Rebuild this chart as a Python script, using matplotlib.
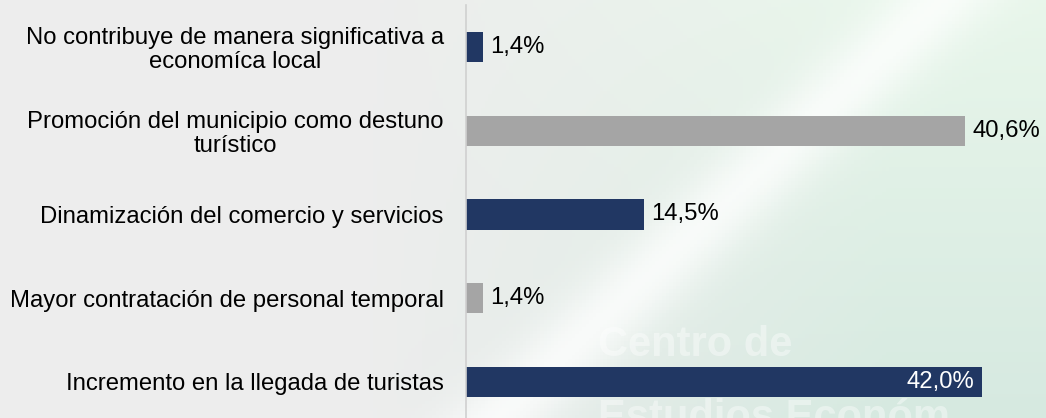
import numpy as np
import matplotlib
matplotlib.use("Agg")
import matplotlib.pyplot as plt

plt.rcParams['font.family'] = ['Liberation Sans', 'DejaVu Sans']

# Data (bottom to top)
categories = [
    "Incremento en la llegada de turistas",
    "Mayor contratación de personal temporal",
    "Dinamización del comercio y servicios",
    "Promoción del municipio como destuno\nturístico",
    "No contribuye de manera significativa a\neconomíca local",
]
values = [42.0, 1.4, 14.5, 40.6, 1.4]
labels = ["42,0%", "1,4%", "14,5%", "40,6%", "1,4%"]
colors = ["#213763", "#a5a5a5", "#213763", "#a5a5a5", "#213763"]

W, H = 1046, 418
fig = plt.figure(figsize=(W / 100, H / 100), dpi=100)

# background gradient
bg = fig.add_axes([0, 0, 1, 1], zorder=-10)
xx, yy = np.meshgrid(np.linspace(0, 1, 300), np.linspace(0, 1, 120))
left = np.array([0.93, 0.93, 0.93])
right_top = np.array([0.91, 0.965, 0.92])
right_bot = np.array([0.84, 0.915, 0.88])
t = np.clip((xx - 0.35) / 0.5, 0, 1)[..., None]
rc = right_top * (1 - yy[..., None]) + right_bot * yy[..., None]
img = left * (1 - t) + rc * t
# white diagonal swoosh
d = (xx * 1.3 - (1 - yy) * 0.55) - 0.62
sw = np.exp(-(d / 0.07) ** 2)[..., None] * 0.75
img = img * (1 - sw) + np.array([1, 1, 1]) * sw
bg.imshow(img, aspect='auto', extent=[0, 1, 0, 1], origin='upper')
bg.set_xlim(0, 1)
bg.set_ylim(0, 1)
bg.axis('off')
bg.text(598 / W, 1 - 345 / H, "Centro de", color='white', alpha=0.4,
        fontsize=30, fontweight='bold', va='center', ha='left')
bg.text(598 / W, 1 - 418 / H, "Estudios Económ", color='white', alpha=0.4,
        fontsize=30, fontweight='bold', va='center', ha='left')

ax = fig.add_axes([466 / W, 0, 580 / W, 413 / H])
ax.patch.set_alpha(0)
y = np.arange(len(categories))
ax.barh(y, values, height=0.36, color=colors)
ax.set_xlim(0, 47.2)
ax.set_ylim(-0.43, 4.5)
ax.set_yticks(y)
ax.set_yticklabels(categories, fontsize=17.2, ha='right', multialignment='center',
                   linespacing=1.08)
ax.tick_params(axis='y', length=0, pad=16)
ax.set_xticks([])
for s in ['top', 'right', 'bottom']:
    ax.spines[s].set_visible(False)
ax.spines['left'].set_color('#d0d0d0')
ax.spines['left'].set_linewidth(1.2)

for yi, v, lab in zip(y, values, labels):
    if v > 41:
        ax.text(v - 0.6, yi, lab, va='center', ha='right', fontsize=17.2, color='white')
    else:
        ax.text(v + 0.6, yi, lab, va='center', ha='left', fontsize=17.2, color='black')

fig.savefig("out.png", dpi=100)
